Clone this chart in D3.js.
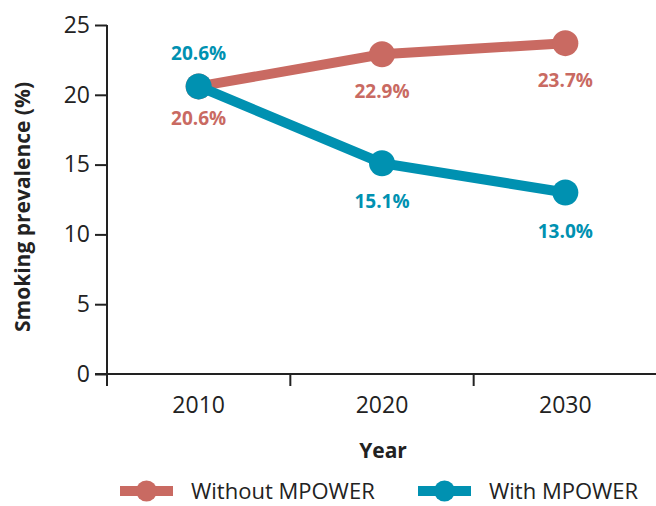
<!DOCTYPE html>
<html>
<head>
<meta charset="utf-8">
<script src="https://cdn.jsdelivr.net/npm/d3@7"></script>
<style>
  body { margin: 0; background: #fff; }
  svg { display: block; }
</style>
</head>
<body>
<svg></svg>
<script>
// Data
const years = ['2010', '2020', '2030']
const withoutMpower = [20.6, 22.9, 23.7]
const withMpower = [20.6, 15.1, 13.0]
const yTicks = [0, 5, 10, 15, 20, 25]
const seriesNames = ['Without MPOWER', 'With MPOWER']

const width = 656
const height = 506
const red = '#c96a62'
const blue = '#0091b1'
const font = '"Open Sans", Roboto, sans-serif'

const svg = d3.select('svg')
                .attr('width', width)
                .attr('height', height)

const xScale = d3.scaleBand()
                .domain(years)
                .range([107, 657])
const yScale = d3.scaleLinear()
                .domain([0, 25])
                .range([374, 25])

// y axis
const yAxis = d3.axisLeft(yScale).tickValues(yTicks).tickSize(12).tickPadding(5)
const yG = svg.append('g')
    .attr('transform', 'translate(107,0)')
    .call(yAxis)
yG.select('.domain').remove()
yG.selectAll('line').attr('stroke', '#222').attr('stroke-width', 2)
yG.selectAll('text')
    .attr('font-family', font).attr('font-size', 23).attr('fill', '#222')
svg.append('line')
    .attr('x1', 107).attr('x2', 107)
    .attr('y1', yScale(25)).attr('y2', yScale(0) + 12)
    .attr('stroke', '#222').attr('stroke-width', 2)

// x axis
const xAxis = d3.axisBottom(xScale).tickSize(0).tickPadding(23)
const xG = svg.append('g')
    .attr('transform', 'translate(0,' + yScale(0) + ')')
    .call(xAxis)
xG.select('.domain').remove()
xG.selectAll('text')
    .attr('font-family', font).attr('font-size', 23).attr('fill', '#222')
svg.append('line')
    .attr('x1', 95).attr('x2', width)
    .attr('y1', yScale(0)).attr('y2', yScale(0))
    .attr('stroke', '#222').attr('stroke-width', 2)
svg.selectAll('.xtick')
    .data(years.slice(1))
    .enter()
    .append('line')
    .attr('class', 'xtick')
    .attr('x1', d => xScale(d)).attr('x2', d => xScale(d))
    .attr('y1', yScale(0)).attr('y2', yScale(0) + 12)
    .attr('stroke', '#222').attr('stroke-width', 2)

// axis titles
svg.append('text')
    .attr('x', 383).attr('y', 458)
    .attr('text-anchor', 'middle')
    .attr('font-family', font).attr('font-size', 21).attr('font-weight', 'bold')
    .attr('fill', '#222')
    .text('Year')
svg.append('text')
    .attr('transform', 'translate(30,' + 207 + ') rotate(-90)')
    .attr('text-anchor', 'middle')
    .attr('font-family', font).attr('font-size', 21).attr('font-weight', 'bold')
    .attr('fill', '#222')
    .text('Smoking prevalence (%)')

// lines and points
const cx = d => xScale(d) + xScale.bandwidth() / 2
const line = d3.line()
    .x((d, i) => cx(years[i]))
    .y(d => yScale(d))

let drawSeries = (values, color, labelOffsets) => {
    svg.append('path')
        .datum(values)
        .attr('d', line)
        .attr('fill', 'none')
        .attr('stroke', color)
        .attr('stroke-width', 10)
    svg.selectAll(null)
        .data(values)
        .enter()
        .append('circle')
        .attr('cx', (d, i) => cx(years[i]))
        .attr('cy', d => yScale(d))
        .attr('r', 13)
        .attr('fill', color)
    svg.selectAll(null)
        .data(values)
        .enter()
        .append('text')
        .attr('x', (d, i) => cx(years[i]))
        .attr('y', (d, i) => yScale(d) + labelOffsets[i])
        .attr('text-anchor', 'middle')
        .attr('font-family', font).attr('font-size', 19).attr('font-weight', 'bold')
        .attr('fill', color)
        .text(d => d.toFixed(1) + '%')
}

drawSeries(withoutMpower, red, [39, 44, 44])
drawSeries(withMpower, blue, [-26, 45, 45])

// legend
const legend = [
    { name: seriesNames[0], color: red, x: 120 },
    { name: seriesNames[1], color: blue, x: 418 }
]
const lg = svg.selectAll('.legend')
    .data(legend)
    .enter()
    .append('g')
    .attr('class', 'legend')
    .attr('transform', d => 'translate(' + d.x + ',491)')
lg.append('line')
    .attr('x1', 0).attr('x2', 53)
    .attr('stroke', d => d.color).attr('stroke-width', 10)
lg.append('circle')
    .attr('cx', 26.5).attr('r', 10.5)
    .attr('fill', d => d.color)
lg.append('text')
    .attr('x', 71).attr('y', 8)
    .attr('font-family', font).attr('font-size', 22)
    .attr('fill', '#222')
    .text(d => d.name)
</script>
</body>
</html>
